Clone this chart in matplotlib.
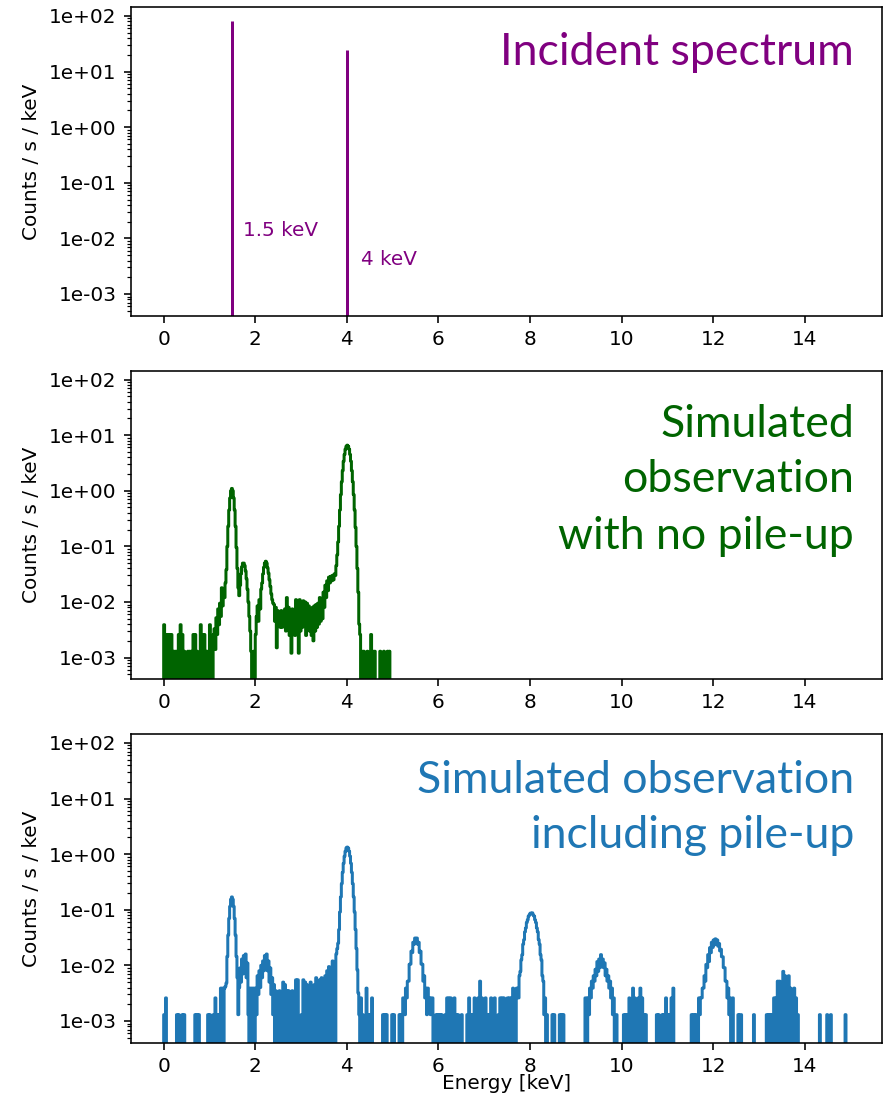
import numpy as np
import matplotlib
matplotlib.use("Agg")
import matplotlib.pyplot as plt
from matplotlib.ticker import FuncFormatter, NullFormatter, LogLocator, FixedLocator

plt.rcParams['path.simplify'] = False

W, H, DPI = 884, 1101, 144

# ---------------- data ----------------
BIN = 0.02          # keV, histogram bin width
NBINS = 750         # 0 .. 15 keV
COUNT = 1.3e-3      # counts/s/keV corresponding to one count in a bin

incident_energy = [1.5, 4.0]
incident_rate = [82.0, 24.0]

# --- simulated observation, no pile-up (green) ---
green_low_counts = [3, 2, 2, 2, 2, 1, 1, 1, 2, 3, 2, 1, 0, 1, 1, 1, 2, 2, 1, 0,
                    3, 2, 2, 1, 1, 3, 1, 2]                       # 0.00 .. 1.08, every 0.04
green_rise = [0.0033, 0.0014, 0.0052, 0.0026, 0.0075, 0.0039, 0.0095, 0.0055,
              0.018, 0.0085, 0.016, 0.012, 0.022]                 # 1.10 .. 1.34
green_peak15 = [0.038, 0.10, 0.23, 0.45, 0.74, 1.0, 1.1, 1.0, 0.74, 0.45,
                0.23, 0.095, 0.04, 0.018, 0.013, 0.02, 0.032, 0.043, 0.05, 0.05,
                0.045, 0.036, 0.026, 0.017, 0.01, 0.0055, 0.003, 0.0013, 0, 0,
                0.0013, 0, 0.0026, 0.0055, 0.0085, 0.0045, 0.011, 0.0075, 0.017, 0.022,
                0.032, 0.042, 0.05, 0.054, 0.05, 0.041, 0.033, 0.025, 0.019, 0.014,
                0.011, 0.0095]                                    # 1.36 .. 2.38
green_band = [0.009, 0.0045, 0.008, 0.0015, 0.007, 0.004, 0.0065, 0.0035, 0.007, 0.0035,
              0.006, 0.0045, 0.0075, 0.003, 0.012, 0.004, 0.008, 0.0025, 0.006, 0.0012,
              0.0075, 0.003, 0.0065, 0.0025, 0.011, 0.0035, 0.01, 0.0012, 0.011, 0.003,
              0.01, 0.0035, 0.0105, 0.004, 0.01, 0.0025, 0.0095, 0.0035, 0.0085, 0.003,
              0.0075, 0.0025, 0.008, 0.002, 0.0085, 0.003, 0.009, 0.0035, 0.0095, 0.004,
              0.012, 0.0045, 0.011, 0.005, 0.015, 0.008, 0.02, 0.012, 0.024, 0.016,
              0.028, 0.022, 0.029, 0.024, 0.03, 0.025, 0.032, 0.03]  # 2.40 .. 3.74
green_peak4 = [0.045, 0.07, 0.12, 0.23, 0.45, 0.85, 1.45, 2.3, 3.4, 4.5,
               5.6, 6.3, 6.6, 6.3, 5.6, 4.5, 3.4, 2.3, 1.45, 0.85,
               0.45, 0.22, 0.1, 0.04, 0.015, 0.004]               # 3.76 .. 4.26
green_high_counts = [2, 1, 1, 0, 1, 0, 2, 1, 1, 0, 0, 1, 0, 1, 0, 1, 1]  # 4.28 .. 4.92, every 0.04

# --- simulated observation including pile-up (blue) ---
blue_low_counts = [1, 2, 0, 0, 0, 0, 0, 1, 1, 0, 1, 1, 0, 0, 0, 0, 0, 1, 1, 1,
                   0, 0, 0, 0, 1, 1, 0, 1, 2, 1, 1, 3, 3, 3]       # 0.00 .. 1.32, every 0.04
blue_core = [0.0042, 0.0048, 0.0145, 0.035, 0.07, 0.115, 0.154, 0.17, 0.154, 0.115,
             0.07, 0.035, 0.0145, 0.006, 0.0013, 0.004, 0.009, 0.005, 0.013, 0.007,
             0.015, 0.008, 0.016, 0.006, 0.011, 0.0013,
             0, 0.0039, 0, 0.0039, 0.0013, 0.0039, 0, 0.0039, 0.0013, 0.0065,
             0.003, 0.008, 0.004, 0.01, 0.006, 0.012, 0.008, 0.015, 0.009, 0.016,
             0.008, 0.012, 0.005, 0.009, 0.003, 0.006, 0.0013]  # 1.34 .. 2.38
blue_band = [0.0045, 0.0035, 0.0025, 0.0035, 0.0025, 0.005, 0.0045, 0.0035, 0.0035, 0.0025,
             0.0035, 0.0025, 0.0055, 0.0055, 0, 0.0013, 0.0055, 0.005, 0.0045, 0.0035,
             0.005, 0.0033, 0.0045, 0.006, 0.0045, 0.0055, 0.006, 0.0045, 0.0065, 0.008,
             0.0095, 0.0065, 0.012, 0.0085, 0.016]                # 2.40 .. 3.76, every 0.04
blue_peak4 = [0.02, 0.025, 0.044, 0.091, 0.17, 0.295, 0.47, 0.685, 0.92, 1.13,
              1.29, 1.34, 1.29, 1.13, 0.92, 0.685, 0.47, 0.295, 0.17, 0.091,
              0.044, 0.02, 0.0083, 0.0032]                         # 3.78 .. 4.24
blue_mid1_counts = [1, 2, 1, 0, 3, 1, 1, 2, 0, 0, 0, 0, 0, 1, 1, 1, 0, 0, 1, 1,
                    0, 0, 1, 1, 2]                                 # 4.26 .. 5.22, every 0.04
blue_peak55 = [0.0026, 0.0013, 0.0039, 0.0026, 0.0052, 0.0052, 0.0105, 0.0105, 0.018, 0.017,
               0.026, 0.024, 0.031, 0.027, 0.031, 0.024, 0.026, 0.017, 0.018, 0.0105,
               0.0105, 0.0052, 0.0065, 0.0026, 0.0039, 0.0013, 0.0039, 0.0026, 0.0026, 0.0013,
               0.0026]                                             # 5.24 .. 5.84
blue_mid2_counts = [2, 0, 1, 1, 1, 1, 0, 1, 2, 2, 2, 1, 2, 1, 1, 0, 1, 0, 0, 1,
                    2, 1, 1, 2, 1, 2, 4, 2, 1, 2, 1, 1, 2, 1, 2, 0, 1, 2, 2, 2,
                    1, 2, 2, 2, 3, 2, 3]                           # 5.86 .. 7.70, every 0.04
blue_peak8 = [0.0039, 0.0026, 0.0065, 0.0078, 0.0125, 0.0155, 0.024, 0.029, 0.040, 0.047,
              0.059, 0.066, 0.077, 0.081, 0.087, 0.087, 0.088, 0.081, 0.077, 0.066,
              0.059, 0.047, 0.040, 0.029, 0.024, 0.0155, 0.0125, 0.0065, 0.0052, 0.0013,
              0.0026, 0, 0.0013, 0]                                # 7.72 .. 8.38
blue_mid3_counts = [0, 0, 1, 1, 0, 0, 1, 1, 1, 0, 0, 0, 0, 0, 0, 0, 0, 0, 0, 0, 2]  # 8.40 .. 9.20
blue_peak96 = [0.0026, 0, 0.0026, 0.0013, 0.0039, 0.0026, 0.0052, 0.0039, 0.0065, 0.0052,
               0.0085, 0.0065, 0.0117, 0.0078, 0.013, 0.0091, 0.0156, 0.0104, 0.013, 0.0091,
               0.0111, 0.0065, 0.0085, 0.0052, 0.0065, 0.0039, 0.0052, 0.0026, 0.0039, 0.0013,
               0.0026, 0, 0.0013]                                  # 9.22 .. 9.86
blue_mid4_counts = [1, 0, 0, 0, 1, 1, 1, 2, 1, 3, 2, 1, 2, 3, 2, 1, 1, 0, 0, 0,
                    0, 0, 1, 1, 0, 1, 1, 2, 1, 1, 2, 3, 0, 0, 0, 0, 0, 0, 0, 0,
                    0, 1, 1]                                       # 9.88 .. 11.56, every 0.04
blue_peak12 = [0.0013, 0, 0.0013, 0.0013, 0, 0.0026, 0.0013, 0.0026, 0.0026, 0.0039,
               0.0039, 0.0065, 0.0052, 0.0104, 0.0091, 0.0156, 0.0117, 0.0208, 0.0169, 0.026,
               0.021, 0.0286, 0.0234, 0.030, 0.0247, 0.0286, 0.0221, 0.0247, 0.0182, 0.0195,
               0.0143, 0.0143, 0.0091, 0.0091, 0.0052, 0.0052, 0.0026, 0.0039, 0.0013, 0.0026,
               0, 0.0013, 0.0026, 0, 0, 0, 0, 0, 0.0013, 0,
               0.0013]                                             # 11.58 .. 12.58
blue_mid5_counts = [1, 0, 0, 0, 0, 0, 0, 1, 0, 0, 0, 0, 0, 0, 1, 1, 1, 1]  # 12.60 .. 13.28
blue_peak136_counts = [2, 2, 4, 4, 3, 6, 5, 3, 5, 3, 2, 3, 2, 1]          # 13.32 .. 13.84
blue_tail_counts = [0, 0, 0, 0, 0, 0, 0, 0, 0, 0, 0, 1, 0, 0, 0, 1, 0, 1, 0, 0,
                    0, 0, 0, 0, 0, 1, 0, 0]                        # 13.88 .. 14.96

# ---------------- helpers ----------------
def build(pieces):
    vals = np.zeros(NBINS)
    for start, values, stride, scale in pieces:
        i0 = int(round(start / BIN))
        for k, v in enumerate(values):
            vals[i0 + k * stride] = v * scale
    return vals


green_vals = build([
    (0.00, green_low_counts, 2, COUNT),
    (1.10, green_rise, 1, 1.0),
    (1.36, green_peak15, 1, 1.0),
    (2.40, green_band, 1, 1.0),
    (3.76, green_peak4, 1, 1.0),
    (4.28, green_high_counts, 2, COUNT),
])

blue_vals = build([
    (0.00, blue_low_counts, 2, COUNT),
    (1.34, blue_core, 1, 1.0),
    (2.40, blue_band, 2, 1.0),
    (3.78, blue_peak4, 1, 1.0),
    (4.26, blue_mid1_counts, 2, COUNT),
    (5.24, blue_peak55, 1, 1.0),
    (5.86, blue_mid2_counts, 2, COUNT),
    (7.72, blue_peak8, 1, 1.0),
    (8.40, blue_mid3_counts, 2, COUNT),
    (9.22, blue_peak96, 1, 1.0),
    (9.88, blue_mid4_counts, 2, COUNT),
    (11.58, blue_peak12, 1, 1.0),
    (12.60, blue_mid5_counts, 2, COUNT),
    (13.32, blue_peak136_counts, 2, COUNT),
    (13.88, blue_tail_counts, 2, COUNT),
])

edges = np.arange(NBINS + 1) * BIN
YMIN, YMAX = 4.07e-4, 1.43e2


def draw_hist(ax, vals, color):
    x = np.concatenate([[0.0], edges])
    y = np.concatenate([[0.0], vals, [0.0]])
    ax.plot(x, y, drawstyle='steps-post', color=color, lw=1.5)


def style(ax):
    ax.set_yscale('log')
    ax.set_xlim(-0.72, 15.68)
    ax.set_ylim(YMIN, YMAX)
    ax.yaxis.set_major_locator(FixedLocator([1e-3, 1e-2, 1e-1, 1, 10, 100]))
    ax.yaxis.set_major_formatter(FuncFormatter(lambda v, p: f"{v:.0e}"))
    ax.yaxis.set_minor_locator(LogLocator(base=10, subs=np.arange(2, 10) * 1.0, numticks=30))
    ax.yaxis.set_minor_formatter(NullFormatter())
    ax.set_xticks(range(0, 15, 2))
    ax.set_ylabel('Counts / s / keV')


fig = plt.figure(figsize=(W / DPI, H / DPI), dpi=DPI)
left, width = 130.7 / W, 751.0 / W
axh = 308.4 / H
ax1 = fig.add_axes([left, 1 - 315.7 / H, width, axh])
ax2 = fig.add_axes([left, 1 - 679.3 / H, width, axh])
ax3 = fig.add_axes([left, 1 - 1042.7 / H, width, axh])

for ax in (ax1, ax2, ax3):
    style(ax)

# incident spectrum
ax1.vlines(incident_energy, YMIN, incident_rate, color='#800080', lw=1.5)
ax1.text(1.74, 0.0136, '1.5 keV', color='#800080', ha='left', va='center', fontsize=10)
ax1.text(4.31, 0.0041, '4 keV', color='#800080', ha='left', va='center', fontsize=10)

draw_hist(ax2, green_vals, '#006400')
draw_hist(ax3, blue_vals, '#1f77b4')
ax3.set_xlabel('Energy [keV]')
ax3.xaxis.set_label_coords(0.5, -0.10)

BIGFONT = dict(family=['Lato', 'DejaVu Sans'], fontsize=22.3, ha='right', va='baseline')
XR = 854 / W
fig.text(XR, 1 - 65 / H, 'Incident spectrum', color='#800080', **BIGFONT)
fig.text(XR, 1 - 437 / H, 'Simulated', color='#006400', **BIGFONT)
fig.text(XR, 1 - 492 / H, 'observation', color='#006400', **BIGFONT)
fig.text(XR, 1 - 549 / H, 'with no pile-up', color='#006400', **BIGFONT)
fig.text(XR, 1 - 793 / H, 'Simulated observation', color='#1f77b4', **BIGFONT)
fig.text(XR, 1 - 848 / H, 'including pile-up', color='#1f77b4', **BIGFONT)

fig.savefig('out.png', dpi=DPI)
